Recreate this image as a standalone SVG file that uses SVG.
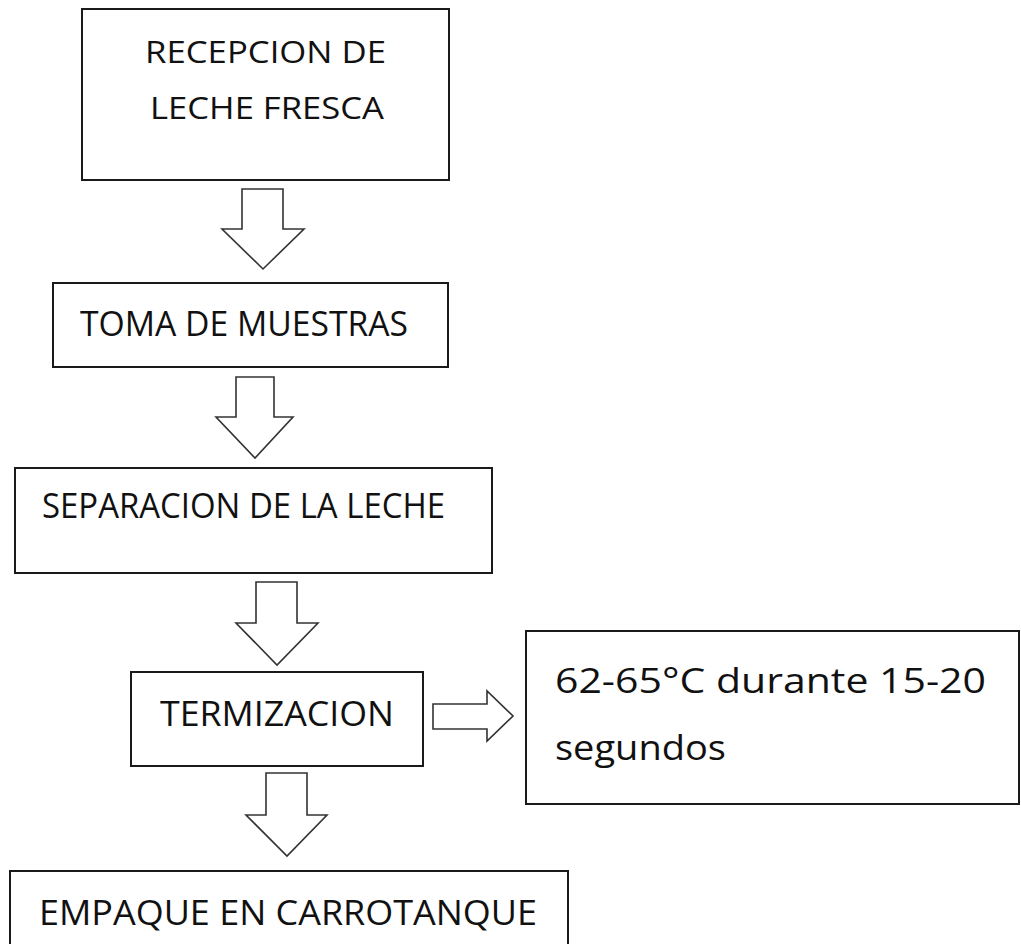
<svg xmlns="http://www.w3.org/2000/svg" width="1021" height="944" viewBox="0 0 1021 944">
<style>
.box{fill:#fff;stroke:#1a1a1a;stroke-width:2}
.arr{fill:#fff;stroke:#333;stroke-width:1.6;stroke-linejoin:miter}
.t{font-family:"Open Sans","Liberation Sans",sans-serif;font-size:35px;fill:#111}
.s{font-size:31px}
</style>
<rect width="1021" height="944" fill="#fff"/>
<g id="n1">
<rect class="box" x="82" y="9" width="367" height="171"/>
<text class="t s" x="145" y="63" textLength="241" lengthAdjust="spacingAndGlyphs">RECEPCION DE</text>
<text class="t s" x="150" y="119" textLength="234" lengthAdjust="spacingAndGlyphs">LECHE FRESCA</text>
</g>
<g id="n2">
<rect class="box" x="53" y="283" width="395" height="84"/>
<text class="t" x="80" y="336" textLength="328" lengthAdjust="spacingAndGlyphs">TOMA DE MUESTRAS</text>
</g>
<g id="n3">
<rect class="box" x="15" y="468" width="477" height="105"/>
<text class="t" x="42" y="518" textLength="403" lengthAdjust="spacingAndGlyphs">SEPARACION DE LA LECHE</text>
</g>
<g id="n4">
<rect class="box" x="131" y="672" width="292" height="94"/>
<text class="t" x="160" y="726" textLength="234" lengthAdjust="spacingAndGlyphs">TERMIZACION</text>
</g>
<g id="n5">
<rect class="box" x="526" y="631" width="493" height="173"/>
<text class="t" x="555" y="693" textLength="431" lengthAdjust="spacingAndGlyphs">62-65°C durante 15-20</text>
<text class="t" x="555" y="760" textLength="171" lengthAdjust="spacingAndGlyphs">segundos</text>
</g>
<g id="n6">
<rect class="box" x="10" y="871" width="558" height="90"/>
<text class="t" x="39" y="925" textLength="498" lengthAdjust="spacingAndGlyphs">EMPAQUE EN CARROTANQUE</text>
</g>
<g id="connectors">
<polygon class="arr" points="242,189 283,189 283,229 304,229 263,269 222,229 242,229"/>
<polygon class="arr" points="236,377 274,377 274,417 293,417 255,458 216,417 236,417"/>
<polygon class="arr" points="256,582 297,582 297,623 318,623 277,665 236,623 256,623"/>
<polygon class="arr" points="266,773 307,773 307,815 327,815 287,856 246,815 266,815"/>
<polygon class="arr" points="433,704 487,704 487,691 513,716 487,741 487,729 433,729"/>
</g>
</svg>
